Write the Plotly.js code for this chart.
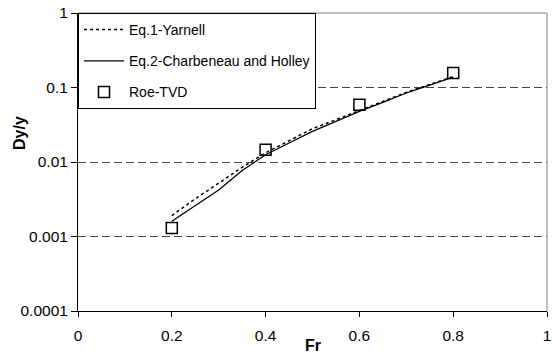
<!DOCTYPE html>
<html>
<head>
<meta charset="utf-8">
<script src="https://cdn.plot.ly/plotly-3.0.1.min.js"></script>
<style>html,body{margin:0;padding:0;background:#fff;}#chart{width:552px;height:354px;}</style>
</head>
<body>
<div id="chart"></div>
<script>
// Eq.1 - Yarnell (dotted)
const frLine = [0.2, 0.25, 0.3, 0.35, 0.4, 0.45, 0.5, 0.55, 0.6, 0.65, 0.7, 0.75, 0.8];
const yarnell = [0.0019, 0.0032, 0.0052, 0.0085, 0.0133, 0.0195, 0.028, 0.037, 0.0495, 0.065, 0.086, 0.11, 0.14];
// Eq.2 - Charbeneau and Holley (solid)
const charbeneau = [0.0016, 0.0026, 0.0042, 0.0077, 0.0125, 0.018, 0.0258, 0.035, 0.0478, 0.063, 0.0844, 0.108, 0.138];
// Roe-TVD (squares)
const frRoe = [0.2, 0.4, 0.6, 0.8];
const roe = [0.0013, 0.0146, 0.0587, 0.157];

const xTickVals = [0, 0.2, 0.4, 0.6, 0.8, 1];
const xTickText = ["0", "0.2", "0.4", "0.6", "0.8", "1"];
const yTickVals = [0.0001, 0.001, 0.01, 0.1, 1];
const yTickText = ["0.0001", "0.001", "0.01", "0.1", "1"];

const FONT = "Liberation Sans, Arial, sans-serif";

const traces = [
  {x: frLine, y: yarnell, name: "Eq.1-Yarnell", mode: "lines", legendgroup: "a",
   line: {color: "#000", width: 1.5, dash: "dot"}},
  {x: frLine, y: charbeneau, name: "Eq.2-Charbeneau and Holley", mode: "lines", legendgroup: "b",
   line: {color: "#000", width: 1.3}},
  {x: frRoe, y: roe, name: "Roe-TVD", mode: "markers", legendgroup: "c",
   marker: {symbol: "square-open", size: 11, color: "#000", line: {width: 1.5, color: "#000"}}}
];

const layout = {
  width: 552, height: 354,
  margin: {l: 78, r: 5, t: 13, b: 43},
  paper_bgcolor: "#fff", plot_bgcolor: "#fff",
  font: {family: FONT, size: 15.5, color: "#000"},
  showlegend: true,
  legend: {x: 0, y: 1, xanchor: "left", yanchor: "top", bgcolor: "#fff",
    bordercolor: "#000", borderwidth: 1, font: {family: FONT, size: 14, color: "#000"},
    tracegroupgap: 10, itemwidth: 40},
  xaxis: {range: [0, 1], tickvals: xTickVals, ticktext: xTickText, showgrid: false,
    zeroline: false, showline: true, linecolor: "#000", linewidth: 1,
    ticks: "outside", ticklen: 5, tickcolor: "#000", ticklabelstandoff: 5},
  yaxis: {type: "log", range: [-4, 0], tickvals: yTickVals, ticktext: yTickText,
    showgrid: true, gridcolor: "#444", gridwidth: 1, griddash: "8px,4px",
    zeroline: false, showline: true, linecolor: "#000", linewidth: 1,
    ticks: "outside", ticklen: 6, tickcolor: "#000"},
  shapes: [
    {type: "line", xref: "paper", yref: "paper", x0: 0, x1: 1, y0: 1, y1: 1, layer: "above",
     line: {color: "#808080", width: 1}},
    {type: "line", xref: "paper", yref: "paper", x0: 1, x1: 1, y0: 0, y1: 1, layer: "above",
     line: {color: "#808080", width: 1}}
  ],
  annotations: [
    {text: "<b>Fr</b>", xref: "paper", yref: "paper", x: 0.5, y: 0, yshift: -34,
     xanchor: "center", yanchor: "middle", showarrow: false, font: {family: FONT, size: 16, color: "#000"}},
    {text: "<b>Dy/y</b>", xref: "paper", yref: "paper", x: 0, xshift: -59, y: 0.5, yshift: 29,
     xanchor: "center", yanchor: "middle", textangle: -90, showarrow: false,
     font: {family: FONT, size: 16, color: "#000"}}
  ]
};

Plotly.newPlot("chart", traces, layout, {staticPlot: true, displayModeBar: false});
</script>
</body>
</html>
